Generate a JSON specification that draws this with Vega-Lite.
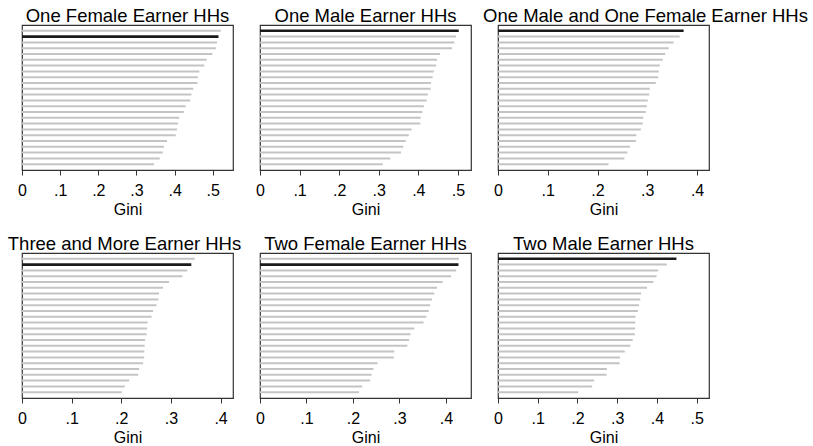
{
  "$schema": "https://vega.github.io/schema/vega-lite/v6.json",
  "background": "white",
  "padding": {"left": 7, "top": 5, "right": 2, "bottom": 0},
  "config": {
    "font": "Liberation Sans",
    "view": {"stroke": "#333333", "strokeWidth": 1.2},
    "title": {"fontSize": 18.5, "fontWeight": "normal", "color": "#000000", "anchor": "middle"},
    "axis": {
      "labelFontSize": 16, "titleFontSize": 16, "titleFontWeight": "normal",
      "labelColor": "#000000", "titleColor": "#000000",
      "tickSize": 5, "tickColor": "#333333", "domainColor": "#333333",
      "grid": false, "labelFlush": false, "labelOverlap": false,
      "labelPadding": 7, "titlePadding": 3,
      "labelExpr": "datum.value == 0 ? '0' : replace(format(datum.value, '.1f'), '0.', '.')"
    }
  },
  "datasets": {
    "gini": [
      {"group": "One Female Earner HHs", "id": 1, "gini": 0.521, "highlight": "no"},
      {"group": "One Female Earner HHs", "id": 2, "gini": 0.515, "highlight": "yes"},
      {"group": "One Female Earner HHs", "id": 3, "gini": 0.511, "highlight": "no"},
      {"group": "One Female Earner HHs", "id": 4, "gini": 0.508, "highlight": "no"},
      {"group": "One Female Earner HHs", "id": 5, "gini": 0.499, "highlight": "no"},
      {"group": "One Female Earner HHs", "id": 6, "gini": 0.484, "highlight": "no"},
      {"group": "One Female Earner HHs", "id": 7, "gini": 0.478, "highlight": "no"},
      {"group": "One Female Earner HHs", "id": 8, "gini": 0.465, "highlight": "no"},
      {"group": "One Female Earner HHs", "id": 9, "gini": 0.461, "highlight": "no"},
      {"group": "One Female Earner HHs", "id": 10, "gini": 0.460, "highlight": "no"},
      {"group": "One Female Earner HHs", "id": 11, "gini": 0.449, "highlight": "no"},
      {"group": "One Female Earner HHs", "id": 12, "gini": 0.444, "highlight": "no"},
      {"group": "One Female Earner HHs", "id": 13, "gini": 0.441, "highlight": "no"},
      {"group": "One Female Earner HHs", "id": 14, "gini": 0.429, "highlight": "no"},
      {"group": "One Female Earner HHs", "id": 15, "gini": 0.424, "highlight": "no"},
      {"group": "One Female Earner HHs", "id": 16, "gini": 0.412, "highlight": "no"},
      {"group": "One Female Earner HHs", "id": 17, "gini": 0.409, "highlight": "no"},
      {"group": "One Female Earner HHs", "id": 18, "gini": 0.406, "highlight": "no"},
      {"group": "One Female Earner HHs", "id": 19, "gini": 0.403, "highlight": "no"},
      {"group": "One Female Earner HHs", "id": 20, "gini": 0.380, "highlight": "no"},
      {"group": "One Female Earner HHs", "id": 21, "gini": 0.372, "highlight": "no"},
      {"group": "One Female Earner HHs", "id": 22, "gini": 0.369, "highlight": "no"},
      {"group": "One Female Earner HHs", "id": 23, "gini": 0.361, "highlight": "no"},
      {"group": "One Female Earner HHs", "id": 24, "gini": 0.346, "highlight": "no"},

      {"group": "One Male Earner HHs", "id": 1, "gini": 0.502, "highlight": "yes"},
      {"group": "One Male Earner HHs", "id": 2, "gini": 0.495, "highlight": "no"},
      {"group": "One Male Earner HHs", "id": 3, "gini": 0.491, "highlight": "no"},
      {"group": "One Male Earner HHs", "id": 4, "gini": 0.485, "highlight": "no"},
      {"group": "One Male Earner HHs", "id": 5, "gini": 0.455, "highlight": "no"},
      {"group": "One Male Earner HHs", "id": 6, "gini": 0.447, "highlight": "no"},
      {"group": "One Male Earner HHs", "id": 7, "gini": 0.445, "highlight": "no"},
      {"group": "One Male Earner HHs", "id": 8, "gini": 0.439, "highlight": "no"},
      {"group": "One Male Earner HHs", "id": 9, "gini": 0.436, "highlight": "no"},
      {"group": "One Male Earner HHs", "id": 10, "gini": 0.432, "highlight": "no"},
      {"group": "One Male Earner HHs", "id": 11, "gini": 0.431, "highlight": "no"},
      {"group": "One Male Earner HHs", "id": 12, "gini": 0.424, "highlight": "no"},
      {"group": "One Male Earner HHs", "id": 13, "gini": 0.421, "highlight": "no"},
      {"group": "One Male Earner HHs", "id": 14, "gini": 0.414, "highlight": "no"},
      {"group": "One Male Earner HHs", "id": 15, "gini": 0.410, "highlight": "no"},
      {"group": "One Male Earner HHs", "id": 16, "gini": 0.406, "highlight": "no"},
      {"group": "One Male Earner HHs", "id": 17, "gini": 0.405, "highlight": "no"},
      {"group": "One Male Earner HHs", "id": 18, "gini": 0.383, "highlight": "no"},
      {"group": "One Male Earner HHs", "id": 19, "gini": 0.376, "highlight": "no"},
      {"group": "One Male Earner HHs", "id": 20, "gini": 0.368, "highlight": "no"},
      {"group": "One Male Earner HHs", "id": 21, "gini": 0.362, "highlight": "no"},
      {"group": "One Male Earner HHs", "id": 22, "gini": 0.356, "highlight": "no"},
      {"group": "One Male Earner HHs", "id": 23, "gini": 0.329, "highlight": "no"},
      {"group": "One Male Earner HHs", "id": 24, "gini": 0.310, "highlight": "no"},

      {"group": "One Male and One Female Earner HHs", "id": 1, "gini": 0.373, "highlight": "yes"},
      {"group": "One Male and One Female Earner HHs", "id": 2, "gini": 0.365, "highlight": "no"},
      {"group": "One Male and One Female Earner HHs", "id": 3, "gini": 0.353, "highlight": "no"},
      {"group": "One Male and One Female Earner HHs", "id": 4, "gini": 0.343, "highlight": "no"},
      {"group": "One Male and One Female Earner HHs", "id": 5, "gini": 0.336, "highlight": "no"},
      {"group": "One Male and One Female Earner HHs", "id": 6, "gini": 0.331, "highlight": "no"},
      {"group": "One Male and One Female Earner HHs", "id": 7, "gini": 0.325, "highlight": "no"},
      {"group": "One Male and One Female Earner HHs", "id": 8, "gini": 0.323, "highlight": "no"},
      {"group": "One Male and One Female Earner HHs", "id": 9, "gini": 0.322, "highlight": "no"},
      {"group": "One Male and One Female Earner HHs", "id": 10, "gini": 0.317, "highlight": "no"},
      {"group": "One Male and One Female Earner HHs", "id": 11, "gini": 0.305, "highlight": "no"},
      {"group": "One Male and One Female Earner HHs", "id": 12, "gini": 0.304, "highlight": "no"},
      {"group": "One Male and One Female Earner HHs", "id": 13, "gini": 0.301, "highlight": "no"},
      {"group": "One Male and One Female Earner HHs", "id": 14, "gini": 0.299, "highlight": "no"},
      {"group": "One Male and One Female Earner HHs", "id": 15, "gini": 0.297, "highlight": "no"},
      {"group": "One Male and One Female Earner HHs", "id": 16, "gini": 0.292, "highlight": "no"},
      {"group": "One Male and One Female Earner HHs", "id": 17, "gini": 0.291, "highlight": "no"},
      {"group": "One Male and One Female Earner HHs", "id": 18, "gini": 0.287, "highlight": "no"},
      {"group": "One Male and One Female Earner HHs", "id": 19, "gini": 0.278, "highlight": "no"},
      {"group": "One Male and One Female Earner HHs", "id": 20, "gini": 0.277, "highlight": "no"},
      {"group": "One Male and One Female Earner HHs", "id": 21, "gini": 0.265, "highlight": "no"},
      {"group": "One Male and One Female Earner HHs", "id": 22, "gini": 0.260, "highlight": "no"},
      {"group": "One Male and One Female Earner HHs", "id": 23, "gini": 0.254, "highlight": "no"},
      {"group": "One Male and One Female Earner HHs", "id": 24, "gini": 0.222, "highlight": "no"},

      {"group": "Three and More Earner HHs", "id": 1, "gini": 0.348, "highlight": "no"},
      {"group": "Three and More Earner HHs", "id": 2, "gini": 0.341, "highlight": "yes"},
      {"group": "Three and More Earner HHs", "id": 3, "gini": 0.333, "highlight": "no"},
      {"group": "Three and More Earner HHs", "id": 4, "gini": 0.323, "highlight": "no"},
      {"group": "Three and More Earner HHs", "id": 5, "gini": 0.296, "highlight": "no"},
      {"group": "Three and More Earner HHs", "id": 6, "gini": 0.284, "highlight": "no"},
      {"group": "Three and More Earner HHs", "id": 7, "gini": 0.276, "highlight": "no"},
      {"group": "Three and More Earner HHs", "id": 8, "gini": 0.275, "highlight": "no"},
      {"group": "Three and More Earner HHs", "id": 9, "gini": 0.271, "highlight": "no"},
      {"group": "Three and More Earner HHs", "id": 10, "gini": 0.264, "highlight": "no"},
      {"group": "Three and More Earner HHs", "id": 11, "gini": 0.261, "highlight": "no"},
      {"group": "Three and More Earner HHs", "id": 12, "gini": 0.253, "highlight": "no"},
      {"group": "Three and More Earner HHs", "id": 13, "gini": 0.252, "highlight": "no"},
      {"group": "Three and More Earner HHs", "id": 14, "gini": 0.251, "highlight": "no"},
      {"group": "Three and More Earner HHs", "id": 15, "gini": 0.248, "highlight": "no"},
      {"group": "Three and More Earner HHs", "id": 16, "gini": 0.247, "highlight": "no"},
      {"group": "Three and More Earner HHs", "id": 17, "gini": 0.2465, "highlight": "no"},
      {"group": "Three and More Earner HHs", "id": 18, "gini": 0.246, "highlight": "no"},
      {"group": "Three and More Earner HHs", "id": 19, "gini": 0.244, "highlight": "no"},
      {"group": "Three and More Earner HHs", "id": 20, "gini": 0.236, "highlight": "no"},
      {"group": "Three and More Earner HHs", "id": 21, "gini": 0.234, "highlight": "no"},
      {"group": "Three and More Earner HHs", "id": 22, "gini": 0.216, "highlight": "no"},
      {"group": "Three and More Earner HHs", "id": 23, "gini": 0.207, "highlight": "no"},
      {"group": "Three and More Earner HHs", "id": 24, "gini": 0.201, "highlight": "no"},

      {"group": "Two Female Earner HHs", "id": 1, "gini": 0.428, "highlight": "no"},
      {"group": "Two Female Earner HHs", "id": 2, "gini": 0.427, "highlight": "yes"},
      {"group": "Two Female Earner HHs", "id": 3, "gini": 0.422, "highlight": "no"},
      {"group": "Two Female Earner HHs", "id": 4, "gini": 0.411, "highlight": "no"},
      {"group": "Two Female Earner HHs", "id": 5, "gini": 0.393, "highlight": "no"},
      {"group": "Two Female Earner HHs", "id": 6, "gini": 0.381, "highlight": "no"},
      {"group": "Two Female Earner HHs", "id": 7, "gini": 0.375, "highlight": "no"},
      {"group": "Two Female Earner HHs", "id": 8, "gini": 0.370, "highlight": "no"},
      {"group": "Two Female Earner HHs", "id": 9, "gini": 0.366, "highlight": "no"},
      {"group": "Two Female Earner HHs", "id": 10, "gini": 0.363, "highlight": "no"},
      {"group": "Two Female Earner HHs", "id": 11, "gini": 0.358, "highlight": "no"},
      {"group": "Two Female Earner HHs", "id": 12, "gini": 0.352, "highlight": "no"},
      {"group": "Two Female Earner HHs", "id": 13, "gini": 0.332, "highlight": "no"},
      {"group": "Two Female Earner HHs", "id": 14, "gini": 0.324, "highlight": "no"},
      {"group": "Two Female Earner HHs", "id": 15, "gini": 0.321, "highlight": "no"},
      {"group": "Two Female Earner HHs", "id": 16, "gini": 0.317, "highlight": "no"},
      {"group": "Two Female Earner HHs", "id": 17, "gini": 0.289, "highlight": "no"},
      {"group": "Two Female Earner HHs", "id": 18, "gini": 0.288, "highlight": "no"},
      {"group": "Two Female Earner HHs", "id": 19, "gini": 0.253, "highlight": "no"},
      {"group": "Two Female Earner HHs", "id": 20, "gini": 0.244, "highlight": "no"},
      {"group": "Two Female Earner HHs", "id": 21, "gini": 0.240, "highlight": "no"},
      {"group": "Two Female Earner HHs", "id": 22, "gini": 0.237, "highlight": "no"},
      {"group": "Two Female Earner HHs", "id": 23, "gini": 0.220, "highlight": "no"},
      {"group": "Two Female Earner HHs", "id": 24, "gini": 0.213, "highlight": "no"},

      {"group": "Two Male Earner HHs", "id": 1, "gini": 0.449, "highlight": "yes"},
      {"group": "Two Male Earner HHs", "id": 2, "gini": 0.425, "highlight": "no"},
      {"group": "Two Male Earner HHs", "id": 3, "gini": 0.403, "highlight": "no"},
      {"group": "Two Male Earner HHs", "id": 4, "gini": 0.399, "highlight": "no"},
      {"group": "Two Male Earner HHs", "id": 5, "gini": 0.391, "highlight": "no"},
      {"group": "Two Male Earner HHs", "id": 6, "gini": 0.375, "highlight": "no"},
      {"group": "Two Male Earner HHs", "id": 7, "gini": 0.360, "highlight": "no"},
      {"group": "Two Male Earner HHs", "id": 8, "gini": 0.358, "highlight": "no"},
      {"group": "Two Male Earner HHs", "id": 9, "gini": 0.355, "highlight": "no"},
      {"group": "Two Male Earner HHs", "id": 10, "gini": 0.352, "highlight": "no"},
      {"group": "Two Male Earner HHs", "id": 11, "gini": 0.346, "highlight": "no"},
      {"group": "Two Male Earner HHs", "id": 12, "gini": 0.3455, "highlight": "no"},
      {"group": "Two Male Earner HHs", "id": 13, "gini": 0.345, "highlight": "no"},
      {"group": "Two Male Earner HHs", "id": 14, "gini": 0.3445, "highlight": "no"},
      {"group": "Two Male Earner HHs", "id": 15, "gini": 0.339, "highlight": "no"},
      {"group": "Two Male Earner HHs", "id": 16, "gini": 0.333, "highlight": "no"},
      {"group": "Two Male Earner HHs", "id": 17, "gini": 0.319, "highlight": "no"},
      {"group": "Two Male Earner HHs", "id": 18, "gini": 0.307, "highlight": "no"},
      {"group": "Two Male Earner HHs", "id": 19, "gini": 0.306, "highlight": "no"},
      {"group": "Two Male Earner HHs", "id": 20, "gini": 0.274, "highlight": "no"},
      {"group": "Two Male Earner HHs", "id": 21, "gini": 0.273, "highlight": "no"},
      {"group": "Two Male Earner HHs", "id": 22, "gini": 0.242, "highlight": "no"},
      {"group": "Two Male Earner HHs", "id": 23, "gini": 0.237, "highlight": "no"},
      {"group": "Two Male Earner HHs", "id": 24, "gini": 0.202, "highlight": "no"}
    ]
  },
  "data": {"name": "gini"},
  "columns": 3,
  "spacing": {"row": 83, "column": 27},
  "bounds": "flush",
  "concat": [
    {
      "title": {"text": "One Female Earner HHs", "offset": 0},
      "width": 211, "height": 145,
      "transform": [{"filter": "datum.group == 'One Female Earner HHs'"}],
      "mark": {"type": "rule"},
      "encoding": {
        "x": {"field": "gini", "type": "quantitative", "scale": {"domain": [0, 0.553], "nice": false},
              "axis": {"title": "Gini", "values": [0, 0.1, 0.2, 0.3, 0.4, 0.5], "labelFontSize": 16, "titleFontSize": 16}},
        "x2": {"datum": 0},
        "y": {"field": "id", "type": "ordinal", "sort": "-x", "scale": {"type": "point", "padding": 3}, "axis": null},
        "color": {"field": "highlight", "type": "nominal", "scale": {"domain": ["no", "yes"], "range": ["#c4c4c4", "#1a1a1a"]}, "legend": null},
        "size": {"field": "highlight", "type": "nominal", "scale": {"domain": ["no", "yes"], "range": [2, 2.6]}, "legend": null}
      }
    },
    {
      "title": {"text": "One Male Earner HHs", "offset": 0},
      "width": 211, "height": 145,
      "transform": [{"filter": "datum.group == 'One Male Earner HHs'"}],
      "mark": {"type": "rule"},
      "encoding": {
        "x": {"field": "gini", "type": "quantitative", "scale": {"domain": [0, 0.533], "nice": false},
              "axis": {"title": "Gini", "values": [0, 0.1, 0.2, 0.3, 0.4, 0.5], "labelFontSize": 16, "titleFontSize": 16}},
        "x2": {"datum": 0},
        "y": {"field": "id", "type": "ordinal", "sort": "-x", "scale": {"type": "point", "padding": 3}, "axis": null},
        "color": {"field": "highlight", "type": "nominal", "scale": {"domain": ["no", "yes"], "range": ["#c4c4c4", "#1a1a1a"]}, "legend": null},
        "size": {"field": "highlight", "type": "nominal", "scale": {"domain": ["no", "yes"], "range": [2, 2.6]}, "legend": null}
      }
    },
    {
      "title": {"text": "One Male and One Female Earner HHs", "dx": 42, "offset": 0},
      "width": 211, "height": 145,
      "transform": [{"filter": "datum.group == 'One Male and One Female Earner HHs'"}],
      "mark": {"type": "rule"},
      "encoding": {
        "x": {"field": "gini", "type": "quantitative", "scale": {"domain": [0, 0.424], "nice": false},
              "axis": {"title": "Gini", "values": [0, 0.1, 0.2, 0.3, 0.4], "labelFontSize": 16, "titleFontSize": 16}},
        "x2": {"datum": 0},
        "y": {"field": "id", "type": "ordinal", "sort": "-x", "scale": {"type": "point", "padding": 3}, "axis": null},
        "color": {"field": "highlight", "type": "nominal", "scale": {"domain": ["no", "yes"], "range": ["#c4c4c4", "#1a1a1a"]}, "legend": null},
        "size": {"field": "highlight", "type": "nominal", "scale": {"domain": ["no", "yes"], "range": [2, 2.6]}, "legend": null}
      }
    },
    {
      "title": {"text": "Three and More Earner HHs", "dx": -3, "offset": 0},
      "width": 211, "height": 145,
      "transform": [{"filter": "datum.group == 'Three and More Earner HHs'"}],
      "mark": {"type": "rule"},
      "encoding": {
        "x": {"field": "gini", "type": "quantitative", "scale": {"domain": [0, 0.425], "nice": false},
              "axis": {"title": "Gini", "values": [0, 0.1, 0.2, 0.3, 0.4], "labelFontSize": 16, "titleFontSize": 16}},
        "x2": {"datum": 0},
        "y": {"field": "id", "type": "ordinal", "sort": "-x", "scale": {"type": "point", "padding": 3}, "axis": null},
        "color": {"field": "highlight", "type": "nominal", "scale": {"domain": ["no", "yes"], "range": ["#c4c4c4", "#1a1a1a"]}, "legend": null},
        "size": {"field": "highlight", "type": "nominal", "scale": {"domain": ["no", "yes"], "range": [2, 2.6]}, "legend": null}
      }
    },
    {
      "title": {"text": "Two Female Earner HHs", "offset": 0},
      "width": 211, "height": 145,
      "transform": [{"filter": "datum.group == 'Two Female Earner HHs'"}],
      "mark": {"type": "rule"},
      "encoding": {
        "x": {"field": "gini", "type": "quantitative", "scale": {"domain": [0, 0.454], "nice": false},
              "axis": {"title": "Gini", "values": [0, 0.1, 0.2, 0.3, 0.4], "labelFontSize": 16, "titleFontSize": 16}},
        "x2": {"datum": 0},
        "y": {"field": "id", "type": "ordinal", "sort": "-x", "scale": {"type": "point", "padding": 3}, "axis": null},
        "color": {"field": "highlight", "type": "nominal", "scale": {"domain": ["no", "yes"], "range": ["#c4c4c4", "#1a1a1a"]}, "legend": null},
        "size": {"field": "highlight", "type": "nominal", "scale": {"domain": ["no", "yes"], "range": [2, 2.6]}, "legend": null}
      }
    },
    {
      "title": {"text": "Two Male Earner HHs", "offset": 0},
      "width": 211, "height": 145,
      "transform": [{"filter": "datum.group == 'Two Male Earner HHs'"}],
      "mark": {"type": "rule"},
      "encoding": {
        "x": {"field": "gini", "type": "quantitative", "scale": {"domain": [0, 0.531], "nice": false},
              "axis": {"title": "Gini", "values": [0, 0.1, 0.2, 0.3, 0.4, 0.5], "labelFontSize": 16, "titleFontSize": 16}},
        "x2": {"datum": 0},
        "y": {"field": "id", "type": "ordinal", "sort": "-x", "scale": {"type": "point", "padding": 3}, "axis": null},
        "color": {"field": "highlight", "type": "nominal", "scale": {"domain": ["no", "yes"], "range": ["#c4c4c4", "#1a1a1a"]}, "legend": null},
        "size": {"field": "highlight", "type": "nominal", "scale": {"domain": ["no", "yes"], "range": [2, 2.6]}, "legend": null}
      }
    }
  ]
}
